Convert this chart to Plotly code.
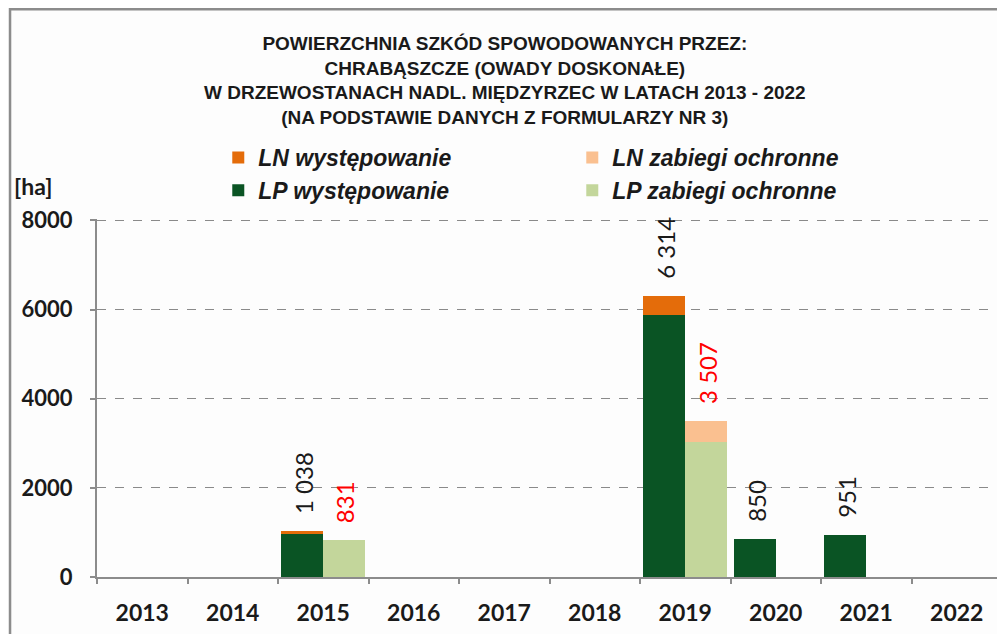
import plotly.graph_objects as go

# dati (ha)
years = ["2013", "2014", "2015", "2016", "2017", "2018", "2019", "2020", "2021", "2022"]
lp_wyst = [0, 0, 970, 0, 0, 0, 5870, 850, 951, 0]
ln_wyst = [0, 0, 68, 0, 0, 0, 444, 0, 0, 0]
lp_zab = [0, 0, 831, 0, 0, 0, 3030, 0, 0, 0]
ln_zab = [0, 0, 0, 0, 0, 0, 477, 0, 0, 0]
y_ticks = [0, 2000, 4000, 6000, 8000]

title_lines = [
    "POWIERZCHNIA SZKÓD SPOWODOWANYCH PRZEZ:",
    "CHRABĄSZCZE (OWADY DOSKONAŁE)",
    "W DRZEWOSTANACH NADL. MIĘDZYRZEC W LATACH 2013 - 2022",
    "(NA PODSTAWIE DANYCH Z FORMULARZY NR 3)",
]

C_LN_W = "#E46C0A"
C_LP_W = "#0A5424"
C_LN_Z = "#FAC090"
C_LP_Z = "#C3D69B"

NARROW = "Liberation Sans Narrow, Arial Narrow, Liberation Sans, sans-serif"
LATO = "Lato, Open Sans, sans-serif"
ARIAL = "Liberation Sans, Arial, sans-serif"

W = 0.464  # larghezza barra (unità categoria)
CAT_PX = 90.5  # larghezza categoria in pixel


def fmt(v):
    return f"{v:,}".replace(",", " ")


fig = go.Figure()

fig.add_trace(go.Bar(x=years, y=ln_wyst, base=lp_wyst, name="LN występowanie",
                     marker=dict(color=C_LN_W, line=dict(width=0)), offset=-W, width=W))
fig.add_trace(go.Bar(x=years, y=ln_zab, base=lp_zab, name="LN zabiegi ochronne",
                     marker=dict(color=C_LN_Z, line=dict(width=0)), offset=0, width=W))
fig.add_trace(go.Bar(x=years, y=lp_wyst, name="LP występowanie",
                     marker=dict(color=C_LP_W, line=dict(width=0)), offset=-W, width=W))
fig.add_trace(go.Bar(x=years, y=lp_zab, name="LP zabiegi ochronne",
                     marker=dict(color=C_LP_Z, line=dict(width=0)), offset=0, width=W))

annotations = []
# etichette dei totali, ruotate
for i, yr in enumerate(years):
    tot_w = lp_wyst[i] + ln_wyst[i]
    tot_z = lp_zab[i] + ln_zab[i]
    if tot_w > 0:
        annotations.append(dict(x=i, y=tot_w, xref="x", yref="y", text=fmt(tot_w),
                                showarrow=False, textangle=-90, yanchor="bottom",
                                xshift=-W / 2 * CAT_PX + 1, yshift=15,
                                font=dict(family=LATO, size=24, color="#1a1a1a")))
    if tot_z > 0:
        annotations.append(dict(x=i, y=tot_z, xref="x", yref="y", text=fmt(tot_z),
                                showarrow=False, textangle=-90, yanchor="bottom",
                                xshift=W / 2 * CAT_PX + 1, yshift=15,
                                font=dict(family=LATO, size=24, color="#FF0000")))

annotations.append(dict(x=0.451, y=1.387, xref="paper", yref="paper",
                        text="<br>".join("<b>%s</b>" % t for t in title_lines), showarrow=False,
                        font=dict(family=NARROW, size=19, color="#1a1a1a"),
                        align="center", xanchor="center", yanchor="middle"))
annotations.append(dict(x=-0.071, y=1.092, xref="paper", yref="paper", text="<b>[ha]</b>",
                        showarrow=False, font=dict(family=LATO, size=23, color="#1a1a1a"),
                        xanchor="center", yanchor="middle"))
annotations.append(dict(x=-0.095, y=1.62, xref="paper", yref="paper", text="<i>Ryc. 2.</i>",
                        showarrow=False, font=dict(family=LATO, size=20, color="#333"),
                        xanchor="left", yanchor="middle"))

fig.update_layout(
    width=1005, height=634,
    margin=dict(l=89, r=11, t=211, b=65),
    paper_bgcolor="#FDFDFD", plot_bgcolor="#FDFDFD",
    barmode="overlay", bargap=0,
    showlegend=True,
    legend=dict(orientation="h", x=0.134, xanchor="left", y=1.232, yanchor="top",
                entrywidth=309, traceorder="normal",
                font=dict(family=ARIAL, size=23, color="#1a1a1a", style="italic", weight="bold"),
                bgcolor="rgba(0,0,0,0)"),
    annotations=annotations,
    shapes=[dict(type="rect", xref="paper", yref="paper", x0=-0.0961, x1=1.001,
                 y0=-0.2, y1=1.586, line=dict(color="#8c8c8c", width=2.5))],
)

fig.update_xaxes(type="category", range=[-0.5, 9.5], tickson="boundaries",
                 ticks="outside", ticklen=5, tickcolor="#8c8c8c", tickwidth=1.5,
                 showline=True, linecolor="#8c8c8c", linewidth=2, showgrid=False,
                 ticklabelstandoff=14,
                 tickfont=dict(family=LATO, size=23, color="#1a1a1a", weight="bold"))
fig.update_yaxes(range=[0, 8030], tickvals=y_ticks, tickformat="d",
                 ticks="outside", ticklen=5, tickcolor="#8c8c8c", tickwidth=1.5,
                 showline=True, linecolor="#8c8c8c", linewidth=2,
                 showgrid=True, gridcolor="#8a8a8a", griddash="dash", gridwidth=1,
                 zeroline=False, ticklabelstandoff=13,
                 tickfont=dict(family=LATO, size=22, color="#1a1a1a", weight="bold"))

fig.write_html("out.html")
